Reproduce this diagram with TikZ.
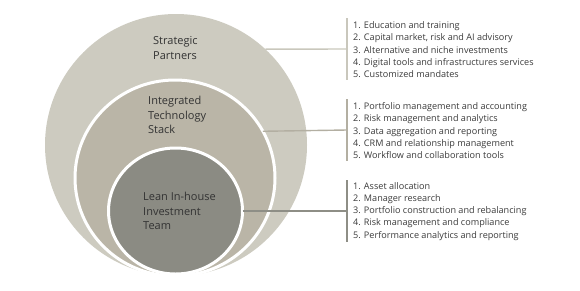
\documentclass[tikz,border=0pt]{standalone}
\usepackage{fontspec}
\setmainfont{Open Sans}
\usetikzlibrary{shapes.geometric}
\definecolor{outerc}{HTML}{CDCBC0}
\definecolor{midc}{HTML}{BAB5A7}
\definecolor{innerc}{HTML}{8B8B83}
\definecolor{txt}{HTML}{333333}
\definecolor{listtxt}{HTML}{3A3A3A}
\definecolor{barA}{HTML}{C9C7BC}
\definecolor{barB}{HTML}{B3AFA2}
\definecolor{barC}{HTML}{8E8E86}
\begin{document}
\begin{tikzpicture}[x=1pt,y=-1pt,
  ring/.style={ellipse, inner sep=0pt, outer sep=0pt},
  ringlabel/.style={align=left, anchor=west, font=\fontsize{11}{14.5}\selectfont, text=txt, inner sep=0pt},
  itemlist/.style={align=left, anchor=west, font=\fontsize{9.1}{12.3}\selectfont, text=listtxt, inner sep=0pt},
  conn/.style={line width=1.4pt},
  barline/.style={line width=2pt}]
\useasboundingbox (0,0) rectangle (580,290);
% rings
\node[ring, fill=outerc, minimum width=262pt, minimum height=262pt] (outer) at (176,145) {};
\node[ring, fill=midc, draw=white, line width=3pt, minimum width=200pt, minimum height=196pt] (mid) at (175,178) {};
\node[ring, fill=innerc, draw=white, line width=3pt, minimum width=134pt, minimum height=126pt] (inner) at (175.5,211) {};
% ring labels
\node[ringlabel] (lblA) at (153,48) {Strategic\\Partners};
\node[ringlabel] (lblB) at (148,115) {Integrated\\Technology\\Stack};
\node[ringlabel] (lblC) at (143,211) {Lean In-house\\Investment\\Team};
% bar coordinates
\coordinate (bA) at (347,49);
\coordinate (bB) at (347,130);
\coordinate (bC) at (347,211);
% connectors
\draw[conn, barA] (outer.47) -- (bA);
\draw[conn, barB] (mid.28.6) -- (bB);
\draw[conn, barC] (inner.east) -- (bC);
% bars
\draw[barline, barA] ([yshift=31pt]bA) -- ([yshift=-31pt]bA);
\draw[barline, barB] ([yshift=31pt]bB) -- ([yshift=-31pt]bB);
\draw[barline, barC] ([yshift=31pt]bC) -- ([yshift=-31pt]bC);
% lists
\node[itemlist] (listA) at (353,49.7) {1. Education and training\\2. Capital market, risk and AI advisory\\3. Alternative and niche investments\\4. Digital tools and infrastructures services\\5. Customized mandates};
\node[itemlist] (listB) at (353,130.8) {1. Portfolio management and accounting\\2. Risk management and analytics\\3. Data aggregation and reporting\\4. CRM and relationship management\\5. Workflow and collaboration tools};
\node[itemlist] (listC) at (353,211.3) {1. Asset allocation\\2. Manager research\\3. Portfolio construction and rebalancing\\4. Risk management and compliance\\5. Performance analytics and reporting};
\end{tikzpicture}
\end{document}
